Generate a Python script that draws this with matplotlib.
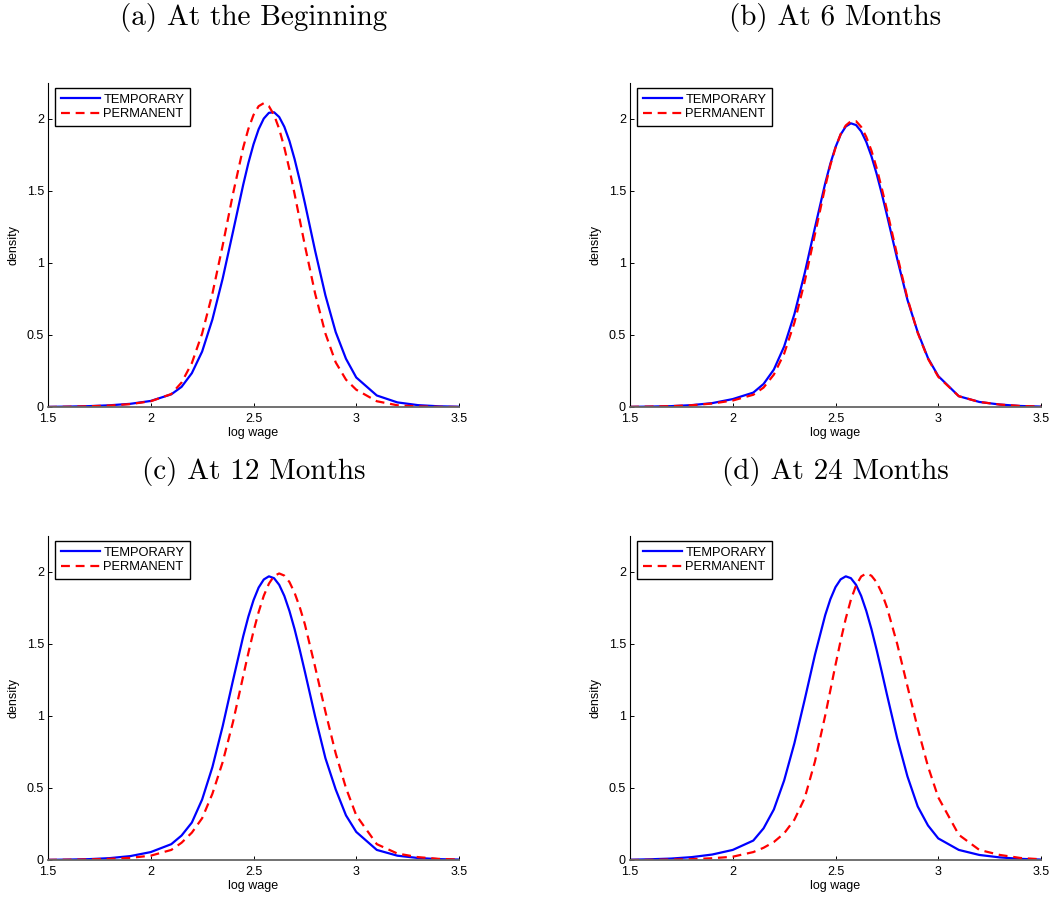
import matplotlib
matplotlib.use("Agg")
import matplotlib.pyplot as plt
from matplotlib.ticker import FormatStrFormatter

plt.rcParams["font.family"] = ["Liberation Sans", "DejaVu Sans"]

# log wage grid shared by all curves
log_wage = [1.5, 1.6, 1.7, 1.8, 1.9, 2.0, 2.1, 2.15, 2.2, 2.25, 2.3, 2.35, 2.4, 2.45,
            2.475, 2.5, 2.525, 2.55, 2.575, 2.6, 2.625, 2.65, 2.675, 2.7, 2.725, 2.75,
            2.8, 2.85, 2.9, 2.95, 3.0, 3.1, 3.2, 3.3, 3.4, 3.5]

# (a) at the beginning
temp_a = [0.001, 0.003, 0.006, 0.012, 0.022, 0.042, 0.088, 0.14, 0.235, 0.385, 0.608, 0.892,
          1.216, 1.544, 1.694, 1.824, 1.929, 2.003, 2.043, 2.047, 2.014, 1.946, 1.847, 1.721,
          1.575, 1.416, 1.084, 0.775, 0.52, 0.335, 0.205, 0.08, 0.032, 0.013, 0.005, 0.002]
perm_a = [0.0, 0.002, 0.005, 0.01, 0.02, 0.04, 0.09, 0.17, 0.305, 0.51, 0.787, 1.122,
          1.479, 1.802, 1.931, 2.028, 2.089, 2.11, 2.089, 2.028, 1.931, 1.802, 1.649, 1.479,
          1.301, 1.122, 0.787, 0.51, 0.31, 0.19, 0.12, 0.04, 0.012, 0.004, 0.001, 0.0]

# (b) at 6 months
temp_b = [0.001, 0.003, 0.006, 0.013, 0.027, 0.055, 0.10, 0.16, 0.26, 0.42, 0.645, 0.929,
          1.246, 1.554, 1.690, 1.804, 1.892, 1.948, 1.970, 1.958, 1.914, 1.840, 1.741, 1.620,
          1.483, 1.335, 1.030, 0.745, 0.52, 0.34, 0.215, 0.075, 0.035, 0.017, 0.007, 0.003]
perm_b = [0.001, 0.003, 0.006, 0.012, 0.024, 0.045, 0.085, 0.135, 0.225, 0.37, 0.585, 0.87,
          1.2, 1.53, 1.68, 1.80, 1.895, 1.955, 1.985, 1.985, 1.945, 1.875, 1.78, 1.66,
          1.52, 1.37, 1.055, 0.755, 0.515, 0.335, 0.21, 0.075, 0.035, 0.017, 0.007, 0.003]

# (c) at 12 months
temp_c = [0.001, 0.003, 0.006, 0.013, 0.027, 0.055, 0.11, 0.17, 0.26, 0.42, 0.645, 0.929,
          1.246, 1.554, 1.690, 1.804, 1.892, 1.948, 1.970, 1.957, 1.911, 1.834, 1.729, 1.603,
          1.460, 1.308, 0.996, 0.707, 0.49, 0.31, 0.195, 0.07, 0.03, 0.014, 0.006, 0.003]
perm_c = [0.001, 0.002, 0.004, 0.008, 0.015, 0.03, 0.07, 0.12, 0.19, 0.29, 0.46, 0.68,
          0.957, 1.278, 1.438, 1.588, 1.722, 1.835, 1.919, 1.972, 1.99, 1.975, 1.93, 1.855,
          1.756, 1.637, 1.34, 1.03, 0.74, 0.50, 0.31, 0.11, 0.045, 0.02, 0.008, 0.003]

# (d) at 24 months
temp_d = [0.002, 0.005, 0.01, 0.02, 0.038, 0.07, 0.135, 0.22, 0.351, 0.552, 0.811, 1.113,
          1.425, 1.701, 1.811, 1.895, 1.949, 1.97, 1.957, 1.911, 1.834, 1.729, 1.603, 1.460,
          1.308, 1.151, 0.846, 0.581, 0.372, 0.24, 0.15, 0.07, 0.035, 0.018, 0.008, 0.003]
perm_d = [0.0, 0.001, 0.003, 0.006, 0.012, 0.023, 0.055, 0.085, 0.125, 0.185, 0.28, 0.43,
          0.684, 1.004, 1.179, 1.355, 1.523, 1.677, 1.808, 1.907, 1.969, 1.99, 1.974, 1.929,
          1.855, 1.756, 1.502, 1.207, 0.915, 0.65, 0.435, 0.175, 0.07, 0.035, 0.014, 0.005]

titles = ["(a) At the Beginning", "(b) At 6 Months", "(c) At 12 Months", "(d) At 24 Months"]
temporary = [temp_a, temp_b, temp_c, temp_d]
permanent = [perm_a, perm_b, perm_c, perm_d]
x_ticks = [1.5, 2, 2.5, 3, 3.5]
y_ticks = [0, 0.5, 1, 1.5, 2]

W, H = 1059, 898
fig = plt.figure(figsize=(W / 100, H / 100), dpi=100)

# axes boxes in pixels: left, top
boxes = [(48, 83), (630, 83), (48, 536), (630, 536)]
ax_w, ax_h = 411, 324
title_y = [18, 471]

for i, (left, top) in enumerate(boxes):
    ax = fig.add_axes([left / W, 1 - (top + ax_h) / H, ax_w / W, ax_h / H])
    ax.plot(log_wage, temporary[i], color="#0000ff", lw=1.6, label="TEMPORARY")
    ax.plot(log_wage, permanent[i], color="#ff0000", lw=1.6, dashes=(4, 2.6),
            label="PERMANENT")
    ax.set_xlim(1.5, 3.5)
    ax.set_ylim(0, 2.25)
    ax.set_xticks(x_ticks)
    ax.set_yticks(y_ticks)
    ax.xaxis.set_major_formatter(FormatStrFormatter("%g"))
    ax.yaxis.set_major_formatter(FormatStrFormatter("%g"))
    ax.tick_params(direction="in", length=3, width=0.7, labelsize=9, pad=3)
    ax.tick_params(axis="x", pad=4)
    for s in ("top", "right"):
        ax.spines[s].set_visible(False)
    ax.spines["left"].set_linewidth(0.8)
    ax.spines["bottom"].set_linewidth(1.3)
    ax.spines["bottom"].set_color("0.4")
    ax.set_xlabel("log wage", fontsize=9, labelpad=2)
    ax.set_ylabel("density", fontsize=9, labelpad=5)
    leg = ax.legend(loc="upper left", bbox_to_anchor=(0.017, 0.985), borderaxespad=0,
                    fontsize=9.3, fancybox=False, framealpha=1, edgecolor="black",
                    handlelength=3.0, handletextpad=0.3, labelspacing=0.2,
                    borderpad=0.45)
    leg.get_frame().set_linewidth(1.0)
    fig.text((left + ax_w / 2) / W, 1 - title_y[i // 2] / H, titles[i],
             ha="center", va="center", fontsize=21, fontfamily="cmr10")

fig.savefig("out.png", dpi=100)
